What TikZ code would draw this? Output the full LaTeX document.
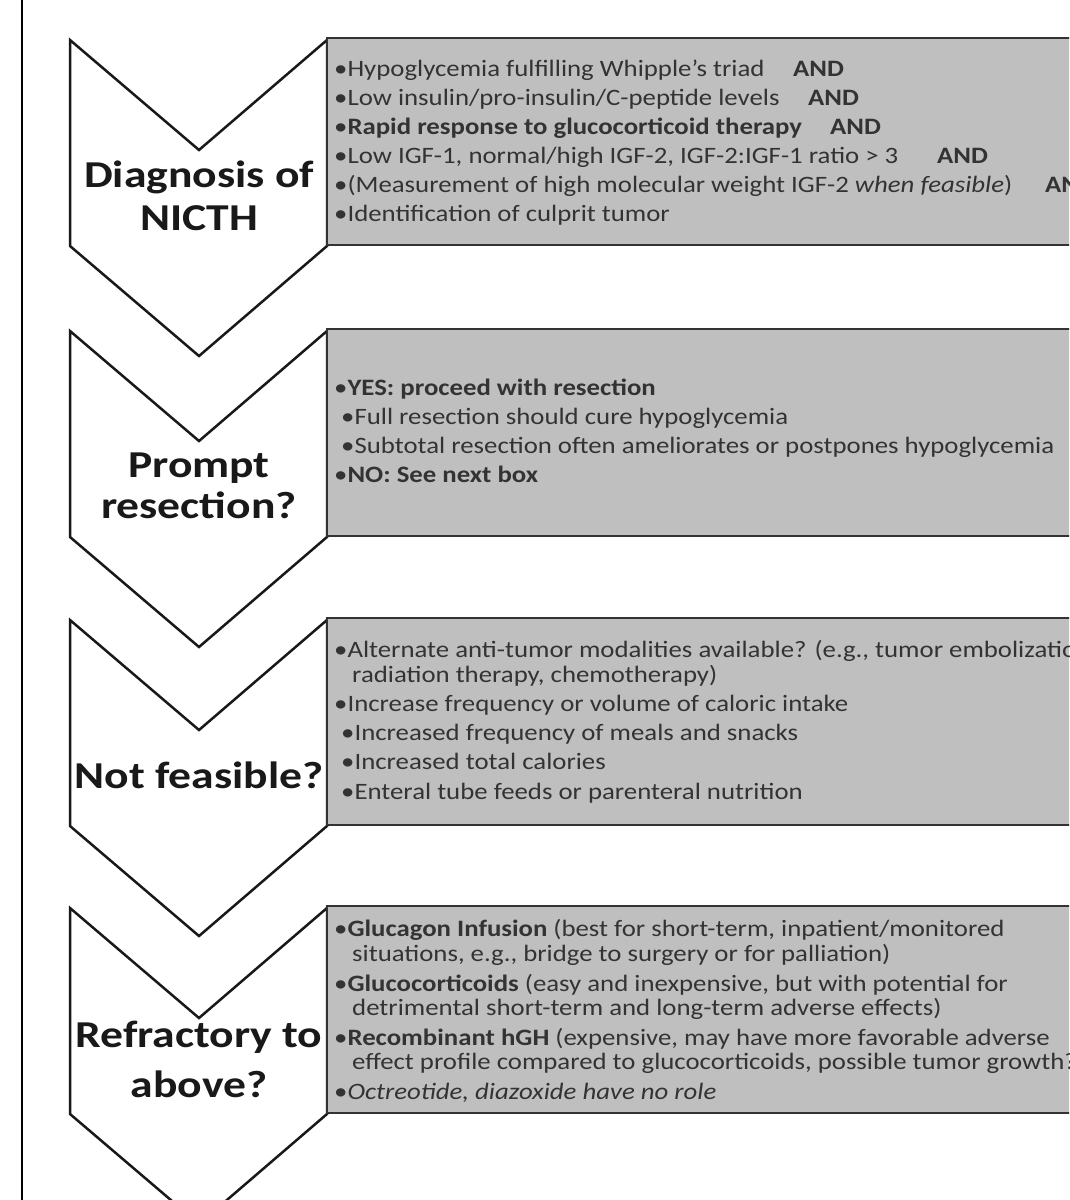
\documentclass[tikz,border=0pt]{standalone}
\usepackage{fontspec}
\setmainfont{Carlito}[FakeStretch=1.14]
\newfontfamily\lblfont{Carlito}[FakeStretch=1.2]
\begin{document}
\tikzset{
  chev/.style={draw=black!90, line width=2.5pt, fill=white, line join=miter},
  infobox/.style={draw=black!80, line width=2.5pt, fill=black!25},
  lbl/.style={anchor=base, font=\lblfont\fontsize{38}{44}\selectfont\bfseries, text=black!90, inner sep=0pt},
  txt/.style={anchor=base west, font=\fontsize{23.5}{29}\selectfont, text=black!80, inner sep=0pt},
  andtxt/.style={txt, font=\fontsize{23.5}{29}\selectfont\bfseries},
}
\begin{tikzpicture}[x=1pt,y=-1pt]
\useasboundingbox (0,0) rectangle (1069,1200);
\clip (0,0) rectangle (1069,1200);
\fill[white] (0,0) rectangle (1069,1200);
\draw[line width=1.5pt] (22,-5) -- (22,1205);

\foreach \T in {40,331,620,908} {
  \draw[chev] (70,\T) -- (199,\T+110) -- (327,\T) -- (327,\T+206) -- (199,\T+316) -- (70,\T+206) -- cycle;
  \draw[infobox] (327,\T-2) rectangle (1100,\T+205);
}

% chevron labels
\node[lbl] (l1a) at (199,187) {Diagnosis of};
\node[lbl] (l1b) at (199,230) {NICTH};
\node[lbl] (l2a) at (199,477) {Prompt};
\node[lbl] (l2b) at (199,518) {resection?};
\node[lbl] (l3a) at (199,788) {Not feasible?};
\node[lbl] (l4a) at (199,1047) {Refractory to};
\node[lbl] (l4b) at (199,1097) {above?};

% box 1
\node[txt] (t11) at (334,76) {•Hypoglycemia fulfilling Whipple's triad};
\node[andtxt] (a11) at (793,76) {AND};
\node[txt] (t12) at (334,105) {•Low insulin/pro-insulin/C-peptide levels};
\node[andtxt] (a12) at (808,105) {AND};
\node[txt] (t13) at (334,134) {•\textbf{Rapid response to glucocorticoid therapy}};
\node[andtxt] (a13) at (830,134) {AND};
\node[txt] (t14) at (334,163) {•Low IGF-1, normal/high IGF-2, IGF-2:IGF-1 ratio > 3};
\node[andtxt] (a14) at (937,163) {AND};
\node[txt] (t15) at (334,192) {•(Measurement of high molecular weight IGF-2 \textit{when feasible})};
\node[andtxt] (a15) at (1045,192) {AND};
\node[txt] (t16) at (334,221) {•Identification of culprit tumor};

% box 2
\node[txt] (t21) at (334,395) {•\textbf{YES: proceed with resection}};
\node[txt] (t22) at (341,424) {•Full resection should cure hypoglycemia};
\node[txt] (t23) at (341,453) {•Subtotal resection often ameliorates or postpones hypoglycemia};
\node[txt] (t24) at (334,482) {•\textbf{NO: See next box}};

% box 3
\node[txt] (t31) at (334,657) {•Alternate anti-tumor modalities available? (e.g., tumor embolization,};
\node[txt] (t32) at (352,682) {radiation therapy, chemotherapy)};
\node[txt] (t33) at (334,711) {•Increase frequency or volume of caloric intake};
\node[txt] (t34) at (341,740) {•Increased frequency of meals and snacks};
\node[txt] (t35) at (341,769) {•Increased total calories};
\node[txt] (t36) at (341,799) {•Enteral tube feeds or parenteral nutrition};

% box 4
\node[txt] (t41) at (334,936) {•\textbf{Glucagon Infusion} (best for short-term, inpatient/monitored};
\node[txt] (t42) at (352,961) {situations, e.g., bridge to surgery or for palliation)};
\node[txt] (t43) at (334,991) {•\textbf{Glucocorticoids} (easy and inexpensive, but with potential for};
\node[txt] (t44) at (352,1015) {detrimental short-term and long-term adverse effects)};
\node[txt] (t45) at (334,1045) {•\textbf{Recombinant hGH} (expensive, may have more favorable adverse};
\node[txt] (t46) at (352,1069) {effect profile compared to glucocorticoids, possible tumor growth?)};
\node[txt] (t47) at (334,1099) {•\textit{Octreotide, diazoxide have no role}};
\end{tikzpicture}
\end{document}
